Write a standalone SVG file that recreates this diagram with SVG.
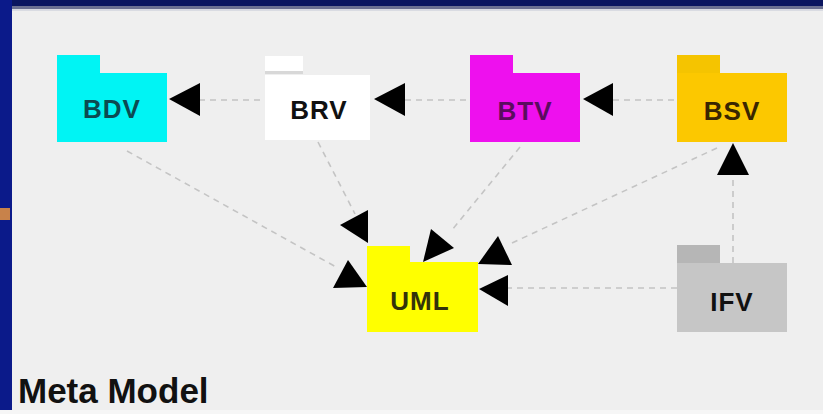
<svg xmlns="http://www.w3.org/2000/svg" width="823" height="414" viewBox="0 0 823 414">
<style>
.lbl{font-family:"Liberation Sans",Arial,sans-serif;font-weight:bold;font-size:26px;text-anchor:middle;letter-spacing:1px}
.dash{fill:none;stroke:#c4c4c4;stroke-width:1.6;stroke-dasharray:6 5}
.head{fill:#000}
</style>
<rect x="0" y="0" width="823" height="414" fill="#efefef"/>
<rect x="0" y="0" width="823" height="6" fill="#0b1660"/>
<rect x="0" y="6" width="823" height="3" fill="#6c7192"/>
<rect x="0" y="9" width="823" height="2" fill="#d9dbe2"/>
<rect x="0" y="0" width="12" height="414" fill="#0b1a8a"/>
<rect x="0" y="208" width="10" height="12" fill="#c8824a"/>
<rect x="0" y="410" width="823" height="4" fill="#f6f6f6"/>
<g id="connectors">
<line class="dash" x1="199" y1="100" x2="265" y2="100"/>
<polygon class="head" points="169,99 200,83 200,116"/>
<line class="dash" x1="405" y1="100" x2="470" y2="100"/>
<polygon class="head" points="374,99 405,83 405,116"/>
<line class="dash" x1="613" y1="100" x2="677" y2="100"/>
<polygon class="head" points="583,99 613,83 613,116"/>
<line class="dash" x1="733" y1="263" x2="733" y2="175"/>
<polygon class="head" points="733,143 717,175 749,175"/>
<line class="dash" x1="677" y1="288" x2="508" y2="288"/>
<polygon class="head" points="479,289 508,275 508,306"/>
<line class="dash" x1="717" y1="148" x2="512" y2="243"/>
<polygon class="head" points="498,236 478,264 512,265"/>
<line class="dash" x1="520" y1="147" x2="452" y2="230"/>
<polygon class="head" points="431,229 454,248 423,262"/>
<line class="dash" x1="318" y1="142" x2="355" y2="214"/>
<polygon class="head" points="368,210 368,243 340,225"/>
<line class="dash" x1="127" y1="151" x2="338" y2="268"/>
<polygon class="head" points="348,260 333,288 367,287"/>
</g>
<g id="BDV">
<rect x="57" y="55" width="43" height="19" fill="#00f4f4"/>
<rect x="57" y="73" width="110" height="69" fill="#00f4f4"/>
<text class="lbl" x="112" y="118" fill="#0c4a52">BDV</text>
</g>
<g id="BRV">
<rect x="265" y="56" width="38" height="15" fill="#ffffff"/>
<rect x="265" y="71" width="38" height="3" fill="#d8d8d8"/>
<rect x="265" y="75" width="105" height="65" fill="#ffffff"/>
<text class="lbl" x="319" y="119" fill="#111">BRV</text>
</g>
<g id="BTV">
<rect x="470" y="55" width="43" height="19" fill="#ee10ee"/>
<rect x="470" y="73" width="110" height="69" fill="#ee10ee"/>
<text class="lbl" x="525" y="120" fill="#5a0c5e">BTV</text>
</g>
<g id="BSV">
<rect x="677" y="55" width="43" height="19" fill="#f5c400"/>
<rect x="677" y="73" width="110" height="69" fill="#fcc800"/>
<text class="lbl" x="732" y="120" fill="#3a2600">BSV</text>
</g>
<g id="UML">
<rect x="367" y="246" width="43" height="17" fill="#ffff00"/>
<rect x="367" y="262" width="111" height="70" fill="#ffff00"/>
<text class="lbl" x="420" y="310" fill="#33330a">UML</text>
</g>
<g id="IFV">
<rect x="677" y="245" width="43" height="19" fill="#b6b6b6"/>
<rect x="677" y="263" width="110" height="69" fill="#c6c6c6"/>
<text class="lbl" x="732" y="311" fill="#111">IFV</text>
</g>
<text x="18" y="403" font-family="'Liberation Sans',Arial,sans-serif" font-weight="bold" font-size="35" fill="#111">Meta Model</text>
</svg>
